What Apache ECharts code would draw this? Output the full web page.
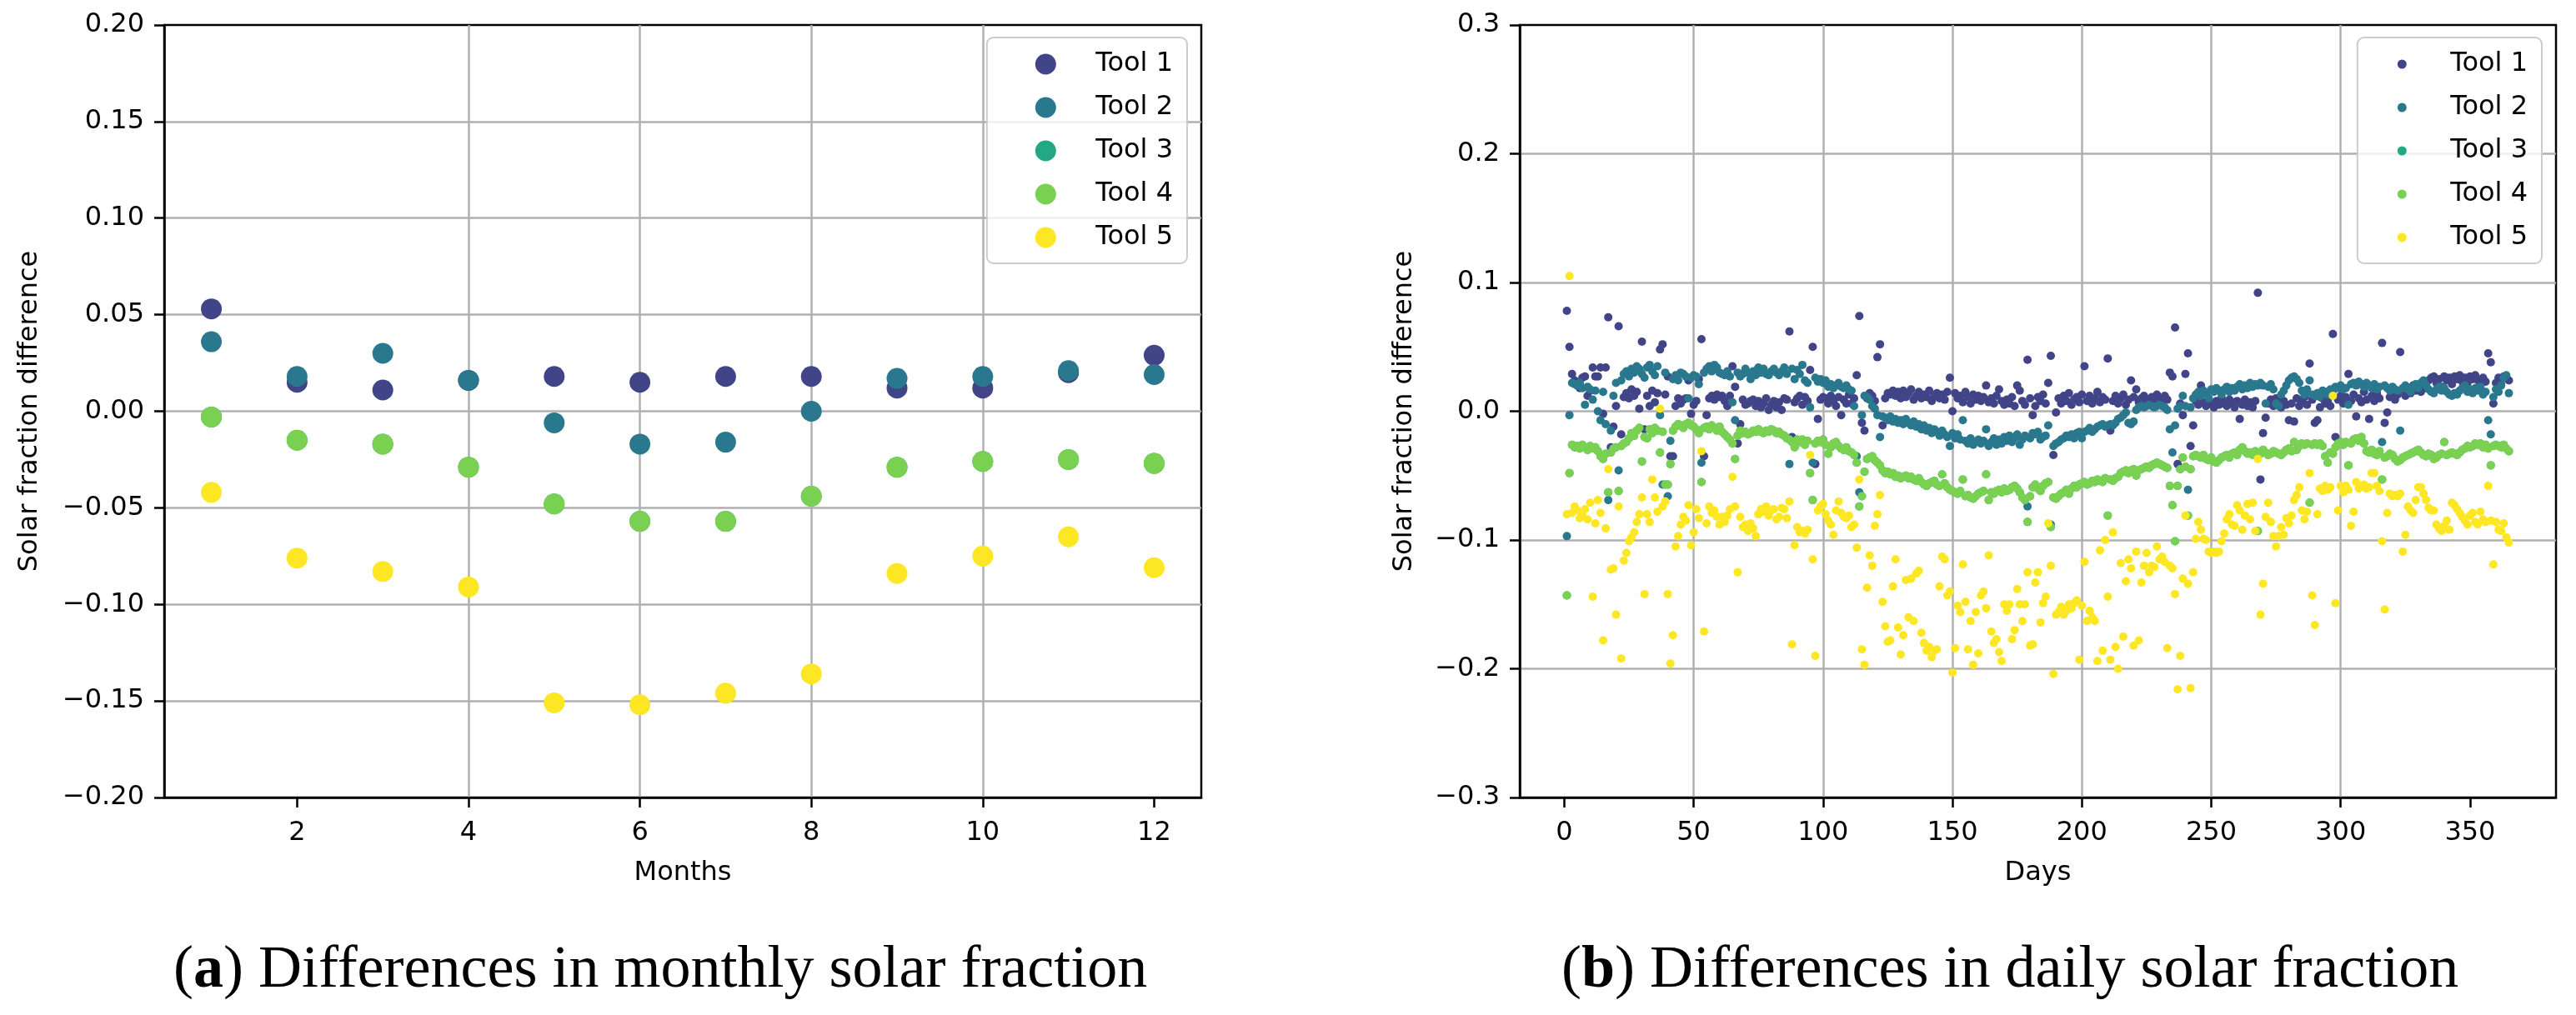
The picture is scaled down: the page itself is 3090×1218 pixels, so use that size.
<!DOCTYPE html>
<html>
<head>
<meta charset="utf-8">
<title>Solar fraction differences</title>
<script src="https://cdn.jsdelivr.net/npm/echarts@6/dist/echarts.min.js"></script>
<style>
  html, body { margin: 0; padding: 0; background: #fff; }
  #chart { width: 3090px; height: 1218px; }
</style>
</head>
<body>
<div id="chart"></div>
<script>
// ---- data ----
const toolNames = ['Tool 1', 'Tool 2', 'Tool 3', 'Tool 4', 'Tool 5'];
const toolColors = ['#414487', '#2a788e', '#22a884', '#7ad151', '#fde725'];

const months = [1, 2, 3, 4, 5, 6, 7, 8, 9, 10, 11, 12];
const monthTicks = [2, 4, 6, 8, 10, 12];
const dayTicks = [0, 50, 100, 150, 200, 250, 300, 350];

const monthlyTool1 = [0.053, 0.015, 0.011, 0.016, 0.018, 0.015, 0.018, 0.018, 0.012, 0.012, 0.020, 0.029];
const monthlyTool2 = [0.036, 0.018, 0.030, 0.016, -0.006, -0.017, -0.016, 0.000, 0.017, 0.018, 0.021, 0.019];
// tool 3 sits exactly under tool 4 in the picture
const monthlyTool3 = [-0.003, -0.015, -0.017, -0.029, -0.048, -0.057, -0.057, -0.044, -0.029, -0.026, -0.025, -0.027];
const monthlyTool4 = [-0.003, -0.015, -0.017, -0.029, -0.048, -0.057, -0.057, -0.044, -0.029, -0.026, -0.025, -0.027];
const monthlyTool5 = [-0.042, -0.076, -0.083, -0.091, -0.151, -0.152, -0.146, -0.136, -0.084, -0.075, -0.065, -0.081];

// daily values, day 1 .. 365
const dailyTool1 = [
  0.078, 0.050, 0.029, 0.024, 0.021, 0.018, 0.026, 0.027, 0.012, 0.016,
  0.034, 0.027, 0.027, 0.034, -0.002, 0.034, 0.073, -0.028, -0.012, 0.004,
  0.066, -0.018, 0.011, 0.014, 0.010, 0.017, 0.012, 0.015, 0.002, 0.054,
  -0.014, 0.012, 0.004, 0.016, 0.007, 0.014, 0.048, 0.052, 0.013, 0.027,
  -0.035, -0.035, 0.004, 0.010, 0.006, 0.009, 0.010, 0.024, -0.002, 0.005,
  0.008, 0.025, 0.056, -0.035, -0.003, 0.010, 0.012, 0.009, 0.013, 0.011,
  0.012, 0.008, 0.004, 0.012, 0.035, 0.019, -0.025, -0.010, 0.009, 0.005,
  0.006, 0.008, 0.009, 0.004, 0.008, 0.003, 0.006, 0.010, 0.001, 0.005,
  0.008, 0.003, 0.007, 0.001, 0.010, 0.009, 0.062, -0.020, 0.007, 0.010,
  0.012, 0.005, 0.011, 0.008, 0.032, 0.050, -0.041, -0.006, 0.009, 0.011,
  0.010, 0.006, 0.012, 0.008, 0.004, 0.011, -0.003, 0.009, 0.006, 0.013,
  0.006, 0.010, 0.028, 0.074, -0.009, -0.015, 0.010, 0.014, 0.012, 0.008,
  0.042, 0.052, -0.011, 0.010, 0.014, 0.013, 0.016, 0.012, 0.015, 0.010,
  0.016, 0.011, 0.014, 0.017, 0.009, 0.012, 0.015, 0.010, 0.013, 0.011,
  0.016, 0.008, 0.012, 0.014, 0.010, 0.013, 0.009, 0.015, 0.026, 0.000,
  0.014, 0.010, 0.012, 0.007, 0.015, 0.011, 0.006, 0.013, 0.009, 0.012,
  0.008, 0.011, 0.020, 0.007, 0.010, 0.006, 0.012, 0.017, 0.008, 0.005,
  0.009, 0.006, 0.011, 0.004, 0.020, 0.016, 0.008, 0.005, 0.040, 0.010,
  -0.003, 0.004, 0.011, 0.008, 0.013, 0.006, 0.022, 0.043, -0.034, -0.001,
  0.010, 0.006, 0.012, 0.008, 0.014, 0.005, 0.009, 0.011, 0.007, 0.013,
  0.035, 0.008, 0.012, 0.006, 0.010, 0.015, 0.007, 0.011, 0.009, 0.041,
  -0.015, 0.008, 0.012, 0.006, 0.010, 0.013, 0.005, 0.009, 0.024, 0.011,
  0.017, 0.007, 0.010, 0.012, 0.006, 0.009, 0.011, 0.008, 0.013, 0.010,
  0.007, 0.012, 0.009, 0.030, 0.027, 0.065, -0.041, 0.006, -0.003, 0.029,
  0.045, -0.027, -0.011, 0.008, 0.005, 0.020, 0.007, 0.004, 0.009, 0.006,
  0.003, 0.008, 0.005, 0.010, 0.006, 0.004, 0.009, 0.007, 0.003, 0.008,
  -0.006, 0.005, 0.009, 0.004, 0.007, 0.003, 0.008, 0.092, -0.053, -0.017,
  -0.005, 0.006, 0.009, 0.004, 0.010, 0.007, 0.003, 0.008, 0.005, -0.007,
  0.006, -0.008, 0.010, 0.004, 0.007, 0.011, 0.005, 0.037, 0.009, -0.009,
  -0.007, 0.003, 0.010, 0.006, 0.008, 0.004, 0.060, -0.020, 0.009, 0.012,
  0.006, 0.011, 0.029, 0.008, 0.013, -0.004, 0.010, 0.007, 0.015, 0.009,
  -0.006, 0.012, 0.008, 0.014, 0.010, 0.053, -0.009, -0.001, 0.011, 0.015,
  0.009, 0.013, 0.046, 0.017, 0.012, 0.018, 0.014, 0.020, 0.016, 0.019,
  0.015, 0.021, 0.018, 0.024, 0.026, 0.027, 0.022, 0.025, 0.019, 0.027,
  0.024, 0.026, 0.021, 0.027, 0.025, 0.028, 0.023, 0.026, 0.022, 0.027,
  0.025, 0.028, 0.024, 0.020, 0.026, 0.023, 0.045, 0.038, 0.006, 0.022,
  0.026, 0.021, 0.027, 0.026, 0.024
];
const dailyTool2 = [
  -0.097, -0.003, 0.022, 0.021, 0.020, 0.022, 0.018, 0.005, 0.019, 0.017,
  0.009, 0.016, 0.000, -0.007, 0.015, -0.010, -0.069, -0.015, 0.012, 0.022,
  -0.046, 0.024, 0.029, 0.031, 0.027, 0.033, 0.030, 0.035, 0.033, 0.029,
  0.026, 0.034, 0.036, 0.031, 0.028, 0.035, -0.003, -0.057, 0.030, -0.066,
  -0.023, 0.025, 0.028, 0.024, 0.030, 0.029, 0.027, 0.010, 0.026, 0.028,
  0.027, 0.021, -0.040, 0.030, 0.033, 0.035, 0.031, 0.036, 0.034, 0.030,
  0.029, 0.028, 0.031, 0.027, 0.007, -0.007, 0.030, 0.027, 0.029, 0.033,
  0.030, 0.025, 0.031, 0.028, 0.034, 0.030, 0.033, 0.029, 0.028, 0.031,
  0.033, 0.030, 0.028, 0.031, 0.034, 0.029, -0.041, 0.033, 0.025, 0.032,
  0.029, 0.036, 0.024, 0.022, 0.003, -0.040, 0.026, 0.023, 0.025, 0.022,
  0.024, 0.019, 0.021, 0.018, 0.020, 0.022, 0.019, 0.018, 0.020, 0.017,
  0.016, 0.004, -0.035, -0.063, -0.003, 0.012, 0.011, 0.009, 0.004, 0.002,
  -0.003, -0.020, -0.004, -0.005, -0.007, -0.004, -0.008, -0.006, -0.009, -0.007,
  -0.010, -0.006, -0.009, -0.011, -0.008, -0.012, -0.010, -0.014, -0.011, -0.015,
  -0.013, -0.017, -0.014, -0.016, -0.019, -0.015, -0.018, -0.020, -0.027, -0.017,
  -0.021, -0.018, -0.022, -0.007, -0.023, -0.025, -0.021, -0.026, -0.024, -0.022,
  -0.025, -0.023, -0.014, -0.027, -0.024, -0.021, -0.026, -0.022, -0.025, -0.020,
  -0.023, -0.019, -0.024, -0.021, -0.018, -0.026, -0.022, -0.019, -0.074, -0.021,
  -0.017, -0.018, -0.016, -0.022, -0.020, -0.019, -0.011, -0.088, -0.027, -0.025,
  -0.024, -0.022, -0.021, -0.019, -0.020, -0.018, -0.021, -0.017, -0.016, -0.021,
  -0.016, -0.015, -0.013, -0.016, -0.014, -0.012, -0.011, -0.010, -0.012, -0.011,
  -0.010, -0.011, -0.009, -0.006, -0.005, -0.003, -0.001, -0.009, -0.010, -0.008,
  0.001, 0.003, 0.004, 0.003, 0.004, 0.005, 0.004, 0.003, 0.004, 0.005,
  0.004, 0.003, 0.001, -0.014, -0.032, -0.011, 0.002, 0.004, 0.012, 0.004,
  -0.061, 0.003, 0.010, 0.013, 0.015, 0.012, 0.016, 0.014, 0.010, 0.017,
  0.015, 0.018, 0.016, 0.013, 0.017, 0.019, 0.015, 0.018, 0.016, 0.019,
  0.021, 0.017, 0.020, 0.018, 0.022, 0.019, 0.021, 0.020, 0.022, 0.020,
  0.006, 0.019, 0.021, 0.017, 0.006, 0.004, 0.013, 0.016, 0.020, 0.024,
  0.026, 0.027, 0.025, 0.022, 0.016, 0.013, 0.017, 0.024, 0.013, 0.012,
  0.014, 0.011, 0.016, 0.015, 0.013, 0.017, 0.016, 0.019, 0.018, 0.020,
  0.017, 0.018, 0.005, 0.021, 0.022, 0.020, 0.023, 0.021, 0.019, 0.022,
  0.020, 0.018, 0.021, 0.017, 0.019, -0.024, 0.020, 0.018, 0.016, 0.019,
  0.017, 0.016, -0.015, 0.018, 0.020, 0.017, 0.015, 0.019, 0.021, 0.018,
  0.022, 0.024, 0.020, 0.017, 0.015, 0.014, 0.017, 0.019, 0.016, 0.018,
  0.015, 0.013, 0.012, 0.014, 0.013, 0.016, 0.018, 0.020, 0.015, 0.017,
  0.014, 0.018, 0.016, 0.019, 0.013, 0.015, -0.007, -0.018, 0.011, 0.017,
  0.015, 0.020, 0.026, 0.028, 0.014
];
const dailyTool4 = [
  -0.143, -0.048, -0.026, -0.028, -0.027, -0.029, -0.026, -0.028, -0.030, -0.027,
  -0.029, -0.028, -0.031, -0.035, -0.037, -0.033, -0.063, -0.032, -0.029, -0.028,
  -0.062, -0.027, -0.025, -0.024, -0.021, -0.017, -0.019, -0.015, -0.013, -0.039,
  -0.020, -0.021, -0.014, -0.017, -0.013, -0.015, -0.032, -0.016, -0.057, -0.057,
  -0.041, -0.015, -0.012, -0.010, -0.011, -0.013, -0.010, -0.009, -0.011, -0.012,
  -0.014, -0.017, -0.055, -0.013, -0.012, -0.014, -0.011, -0.013, -0.015, -0.012,
  -0.016, -0.018, -0.020, -0.022, -0.025, -0.037, -0.019, -0.015, -0.017, -0.016,
  -0.018, -0.017, -0.015, -0.016, -0.014, -0.016, -0.017, -0.015, -0.016, -0.014,
  -0.015, -0.017, -0.016, -0.018, -0.019, -0.021, -0.022, -0.024, -0.028, -0.022,
  -0.024, -0.022, -0.026, -0.023, -0.048, -0.069, -0.025, -0.023, -0.024, -0.022,
  -0.026, -0.033, -0.028, -0.025, -0.024, -0.027, -0.029, -0.030, -0.028, -0.031,
  -0.032, -0.034, -0.040, -0.074, -0.066, -0.047, -0.037, -0.036, -0.035, -0.038,
  -0.040, -0.042, -0.046, -0.048, -0.047, -0.049, -0.048, -0.051, -0.050, -0.052,
  -0.051, -0.050, -0.052, -0.051, -0.053, -0.054, -0.052, -0.055, -0.057, -0.058,
  -0.056, -0.055, -0.054, -0.057, -0.058, -0.049, -0.056, -0.059, -0.061, -0.062,
  -0.063, -0.064, -0.062, -0.053, -0.066, -0.065, -0.067, -0.068, -0.066, -0.064,
  -0.063, -0.062, -0.049, -0.069, -0.063, -0.064, -0.062, -0.061, -0.063, -0.060,
  -0.062, -0.061, -0.059, -0.058, -0.060, -0.063, -0.067, -0.069, -0.086, -0.066,
  -0.059, -0.057, -0.060, -0.062, -0.058, -0.056, -0.055, -0.090, -0.067, -0.068,
  -0.066, -0.064, -0.063, -0.061, -0.064, -0.060, -0.058, -0.059, -0.057, -0.056,
  -0.055, -0.057, -0.056, -0.054, -0.055, -0.053, -0.054, -0.055, -0.052, -0.081,
  -0.053, -0.054, -0.052, -0.051, -0.048, -0.047, -0.046, -0.048, -0.046, -0.045,
  -0.050, -0.046, -0.045, -0.044, -0.043, -0.044, -0.042, -0.041, -0.040, -0.041,
  -0.042, -0.043, -0.044, -0.058, -0.073, -0.101, -0.058, -0.045, -0.036, -0.043,
  -0.081, -0.045, -0.035, -0.034, -0.035, -0.036, -0.034, -0.037, -0.038, -0.036,
  -0.039, -0.040, -0.038, -0.036, -0.035, -0.034, -0.036, -0.033, -0.032, -0.034,
  -0.030, -0.028, -0.031, -0.033, -0.032, -0.034, -0.031, -0.093, -0.033, -0.030,
  -0.032, -0.034, -0.033, -0.031, -0.032, -0.033, -0.034, -0.032, -0.030, -0.029,
  -0.031, -0.024, -0.030, -0.027, -0.025, -0.026, -0.025, -0.071, -0.026, -0.025,
  -0.026, -0.025, -0.027, -0.035, -0.040, -0.032, -0.033, -0.028, -0.025, -0.024,
  -0.026, -0.024, -0.042, -0.025, -0.022, -0.021, -0.023, -0.020, -0.025, -0.031,
  -0.032, -0.030, -0.033, -0.034, -0.031, -0.053, -0.036, -0.035, -0.033, -0.034,
  -0.037, -0.039, -0.038, -0.036, -0.035, -0.034, -0.033, -0.032, -0.031, -0.030,
  -0.032, -0.034, -0.035, -0.033, -0.034, -0.037, -0.036, -0.034, -0.033, -0.024,
  -0.034, -0.033, -0.032, -0.033, -0.034, -0.032, -0.030, -0.029, -0.027, -0.028,
  -0.027, -0.025, -0.026, -0.025, -0.028, -0.026, -0.029, -0.042, -0.027, -0.026,
  -0.027, -0.028, -0.026, -0.029, -0.031
];
// tool 3 is hidden under tool 4 everywhere in the picture
const dailyTool3 = dailyTool4;
const dailyTool5 = [
  -0.080, 0.105, -0.079, -0.074, -0.077, -0.083, -0.081, -0.076, -0.084, -0.071,
  -0.144, -0.087, -0.069, -0.079, -0.178, -0.091, -0.045, -0.123, -0.122, -0.158,
  -0.074, -0.192, -0.116, -0.110, -0.101, -0.098, -0.094, -0.086, -0.080, -0.067,
  -0.142, -0.080, -0.086, -0.053, -0.067, -0.078, 0.002, -0.074, -0.070, -0.142,
  -0.196, -0.174, -0.105, -0.097, -0.088, -0.082, -0.085, -0.073, -0.104, -0.094,
  -0.076, -0.083, -0.031, -0.171, -0.087, -0.074, -0.079, -0.077, -0.082, -0.088,
  -0.082, -0.086, -0.081, -0.076, -0.051, -0.074, -0.125, -0.082, -0.090, -0.088,
  -0.093, -0.087, -0.091, -0.097, -0.080, -0.076, -0.078, -0.074, -0.081, -0.077,
  -0.076, -0.084, -0.082, -0.075, -0.076, -0.083, -0.070, -0.181, -0.104, -0.090,
  -0.094, -0.093, -0.095, -0.092, -0.034, -0.115, -0.190, -0.077, -0.074, -0.072,
  -0.080, -0.085, -0.088, -0.096, -0.077, -0.070, -0.079, -0.082, -0.083, -0.081,
  -0.090, -0.088, -0.106, -0.053, -0.185, -0.197, -0.137, -0.112, -0.120, -0.089,
  -0.080, -0.065, -0.148, -0.167, -0.179, -0.178, -0.136, -0.115, -0.168, -0.189,
  -0.174, -0.131, -0.160, -0.130, -0.163, -0.126, -0.124, -0.172, -0.180, -0.186,
  -0.183, -0.191, -0.186, -0.185, -0.136, -0.113, -0.115, -0.143, -0.140, -0.203,
  -0.184, -0.151, -0.156, -0.119, -0.148, -0.185, -0.163, -0.197, -0.156, -0.188,
  -0.143, -0.140, -0.153, -0.112, -0.171, -0.180, -0.177, -0.187, -0.194, -0.150,
  -0.155, -0.150, -0.177, -0.170, -0.138, -0.150, -0.163, -0.150, -0.125, -0.182,
  -0.181, -0.133, -0.125, -0.164, -0.149, -0.144, -0.087, -0.120, -0.204, -0.158,
  -0.156, -0.152, -0.158, -0.155, -0.150, -0.153, -0.149, -0.147, -0.193, -0.151,
  -0.117, -0.163, -0.155, -0.160, -0.163, -0.194, -0.108, -0.186, -0.100, -0.144,
  -0.193, -0.094, -0.183, -0.200, -0.118, -0.175, -0.132, -0.115, -0.122, -0.182,
  -0.109, -0.178, -0.133, -0.120, -0.110, -0.125, -0.120, -0.121, -0.105, -0.115,
  -0.113, -0.117, -0.184, -0.120, -0.122, -0.142, -0.216, -0.190, -0.130, -0.081,
  -0.134, -0.215, -0.125, -0.099, -0.086, -0.092, -0.099, -0.100, -0.109, -0.110,
  -0.109, -0.110, -0.109, -0.101, -0.095, -0.084, -0.080, -0.088, -0.089, -0.073,
  -0.077, -0.092, -0.081, -0.072, -0.084, -0.071, -0.093, -0.037, -0.158, -0.134,
  -0.082, -0.071, -0.086, -0.097, -0.105, -0.097, -0.090, -0.096, -0.083, -0.087,
  -0.081, -0.069, -0.065, -0.059, -0.077, -0.084, -0.078, -0.048, -0.143, -0.166,
  -0.080, -0.060, -0.062, -0.058, -0.061, -0.059, 0.012, -0.149, -0.077, -0.058,
  -0.063, -0.058, -0.061, -0.089, -0.078, -0.055, -0.060, -0.058, -0.057, -0.060,
  -0.059, -0.048, -0.048, -0.058, -0.062, -0.101, -0.154, -0.079, -0.064, -0.066,
  -0.065, -0.066, -0.064, -0.109, -0.096, -0.074, -0.077, -0.079, -0.069, -0.059,
  -0.059, -0.064, -0.069, -0.075, -0.077, -0.077, -0.088, -0.091, -0.093, -0.089,
  -0.085, -0.092, -0.071, -0.073, -0.076, -0.079, -0.082, -0.085, -0.088, -0.081,
  -0.079, -0.086, -0.088, -0.078, -0.084, -0.086, -0.058, -0.085, -0.119, -0.086,
  -0.092, -0.093, -0.087, -0.098, -0.102
];

const monthlySeries = [monthlyTool1, monthlyTool2, monthlyTool3, monthlyTool4, monthlyTool5];
const dailySeries = [dailyTool1, dailyTool2, dailyTool3, dailyTool4, dailyTool5];

// ---- chart ----
const chart = echarts.init(document.getElementById('chart'), null, {renderer: 'canvas'});

const sans = 'DejaVu Sans';
const serif = 'Liberation Serif';
const tickSize = 32;
const captionSize = 72;

function signed(digits) {
  return function (v) {
    if (Math.abs(v) < 1e-9) v = 0;
    const s = Math.abs(v).toFixed(digits);
    return v < 0 ? '\u2212' + s : s;
  };
}

function xAxis(gridIndex, min, max, ticks, name) {
  return {
    type: 'value', gridIndex: gridIndex, min: min, max: max,
    name: name, nameLocation: 'middle', nameGap: 75,
    nameTextStyle: {fontFamily: sans, fontSize: tickSize, color: '#000'},
    axisLine: {show: true, onZero: false, lineStyle: {color: '#000', width: 2.5}},
    axisTick: {show: true, length: 12, lineStyle: {color: '#000', width: 2.5}, customValues: ticks},
    axisLabel: {customValues: ticks, fontFamily: sans, fontSize: tickSize, color: '#000', margin: 27},
    splitLine: {show: true, showMinLine: false, showMaxLine: false, lineStyle: {color: '#b0b0b0', width: 2.5}}
  };
}

function yAxis(gridIndex, min, max, interval, digits, gap) {
  return {
    type: 'value', gridIndex: gridIndex, min: min, max: max, interval: interval,
    name: 'Solar fraction difference', nameLocation: 'middle', nameGap: gap, nameRotate: 90,
    nameTextStyle: {fontFamily: sans, fontSize: tickSize, color: '#000'},
    axisLine: {show: true, onZero: false, lineStyle: {color: '#000', width: 2.5}},
    axisTick: {show: true, length: 12, lineStyle: {color: '#000', width: 2.5}},
    axisLabel: {fontFamily: sans, fontSize: tickSize, color: '#000', margin: 24, formatter: signed(digits)},
    splitLine: {show: true, showMinLine: false, showMaxLine: false, lineStyle: {color: '#b0b0b0', width: 2.5}}
  };
}

function legend(right, size, padLeft, textPad) {
  return {
    orient: 'vertical', right: right, top: 45,
    data: toolNames, icon: 'circle',
    itemWidth: 30, itemHeight: size, itemGap: 16,
    padding: [14, 17, 13, padLeft],
    backgroundColor: 'rgba(255,255,255,0.8)',
    borderColor: '#cccccc', borderWidth: 2, borderRadius: 8,
    selectedMode: false,
    textStyle: {fontFamily: sans, fontSize: tickSize, color: '#000', lineHeight: 36, padding: [0, 0, 0, textPad]}
  };
}

function caption(letter, rest, left) {
  const base = {fontFamily: serif, fontSize: captionSize, color: '#000'};
  return {
    text: '{p|(}{b|' + letter + '}{p|) ' + rest + '}',
    left: left, top: 1124,
    textStyle: {
      fontFamily: serif, fontSize: captionSize, fontWeight: 'normal', color: '#000',
      rich: {p: base, b: Object.assign({fontWeight: 'bold'}, base)}
    }
  };
}

const series = [];
toolNames.forEach(function (name, i) {
  series.push({
    type: 'scatter', name: name, xAxisIndex: 0, yAxisIndex: 0,
    symbolSize: 25, itemStyle: {color: toolColors[i], opacity: 1},
    data: months.map(function (m, k) { return [m, monthlySeries[i][k]]; }),
    silent: true
  });
});
toolNames.forEach(function (name, i) {
  series.push({
    type: 'scatter', name: name, xAxisIndex: 1, yAxisIndex: 1,
    symbolSize: 10, itemStyle: {color: toolColors[i], opacity: 1},
    data: dailySeries[i].map(function (v, k) { return [k + 1, v]; }),
    silent: true
  });
});

chart.setOption({
  animation: false,
  backgroundColor: '#fff',
  title: [
    caption('a', 'Differences in monthly solar fraction', 203),
    caption('b', 'Differences in daily solar fraction', 1868)
  ],
  grid: [
    {left: 197, top: 30, width: 1244, height: 927, show: true, borderColor: '#000', borderWidth: 2.5, backgroundColor: 'transparent'},
    {left: 1823, top: 30, width: 1243, height: 927, show: true, borderColor: '#000', borderWidth: 2.5, backgroundColor: 'transparent'}
  ],
  xAxis: [
    xAxis(0, 0.45, 12.55, monthTicks, 'Months'),
    xAxis(1, -17.2, 383.2, dayTicks, 'Days')
  ],
  yAxis: [
    yAxis(0, -0.2, 0.2, 0.05, 2, 145),
    yAxis(1, -0.3, 0.3, 0.1, 1, 122)
  ],
  legend: [legend(1666, 25, 58, 40), legend(41, 11, 48, 38)],
  series: series
});
</script>
</body>
</html>
